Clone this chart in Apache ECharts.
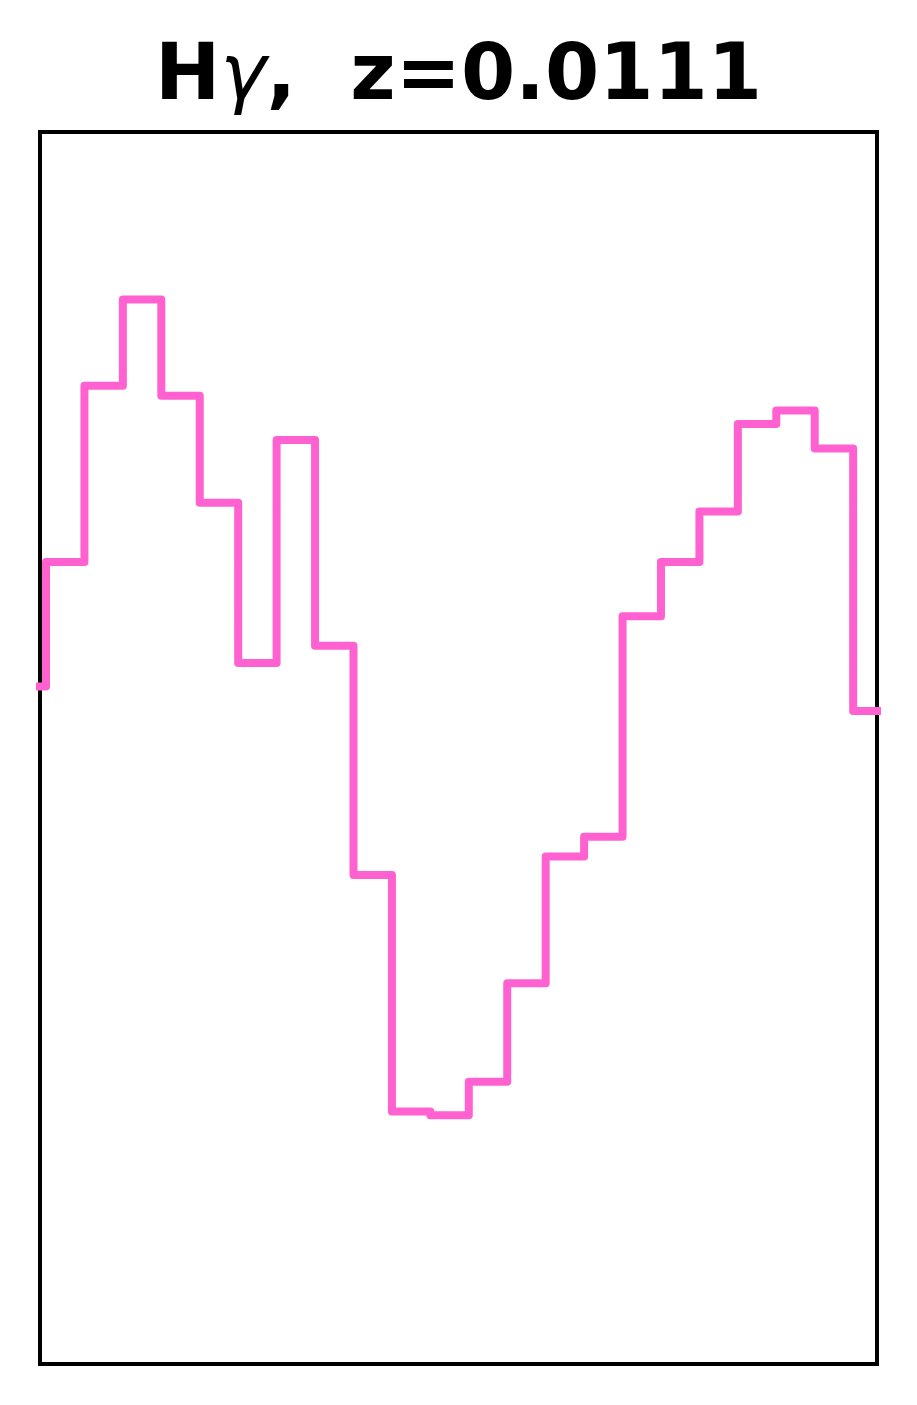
<!DOCTYPE html>
<html>
<head>
<meta charset="utf-8">
<script src="https://cdn.jsdelivr.net/npm/echarts@6/dist/echarts.min.js"></script>
<style>
  html, body { margin: 0; padding: 0; background: #fff; }
  #chart { width: 917px; height: 1405px; }
</style>
</head>
<body>
<div id="chart"></div>
<script>
// bin index where each flux level starts (step drawn as 'end')
var binStart = [-1, 0, 1, 2, 3, 4, 5, 6, 7, 8, 9, 10, 11, 12, 13, 14, 15, 16, 17, 18, 19, 20, 21, 22];
// flux level per bin (arbitrary units)
var fluxLevel = [55.0, 65.1, 79.4, 86.4, 78.6, 69.9, 56.9, 75.0, 58.3, 39.7, 20.5, 20.2,
                 22.9, 30.9, 41.2, 42.8, 60.7, 65.1, 69.2, 76.3, 77.4, 74.3, 53.0, 53.0];
var xRange = [-0.156, 21.62];
var yRange = [0, 100];

var seriesData = [];
for (var i = 0; i < binStart.length; i++) {
    seriesData.push([binStart[i], fluxLevel[i]]);
}

var myChart = echarts.init(document.getElementById('chart'));
myChart.setOption({
    animation: false,
    title: {
        left: 'center',
        top: 35,
        text: '{b|H}{g|γ}{b|,  z=0.0111}',
        textStyle: {
            rich: {
                b: { fontFamily: 'DejaVu Sans', fontWeight: 'bold', fontSize: 78, color: '#000' },
                g: { fontFamily: 'DejaVu Sans', fontStyle: 'oblique', fontWeight: 'normal', fontSize: 78, color: '#000' }
            }
        }
    },
    grid: {
        left: 40,
        top: 132,
        width: 837,
        height: 1232,
        show: true,
        borderColor: '#000',
        borderWidth: 4,
        backgroundColor: '#fff'
    },
    xAxis: {
        type: 'value',
        min: xRange[0],
        max: xRange[1],
        show: false
    },
    yAxis: {
        type: 'value',
        min: yRange[0],
        max: yRange[1],
        show: false
    },
    series: [{
        type: 'line',
        step: 'end',
        data: seriesData,
        symbol: 'none',
        clip: true,
        lineStyle: {
            color: '#ff62d0',
            width: 8,
            join: 'round',
            cap: 'round'
        }
    }]
});
</script>
</body>
</html>
